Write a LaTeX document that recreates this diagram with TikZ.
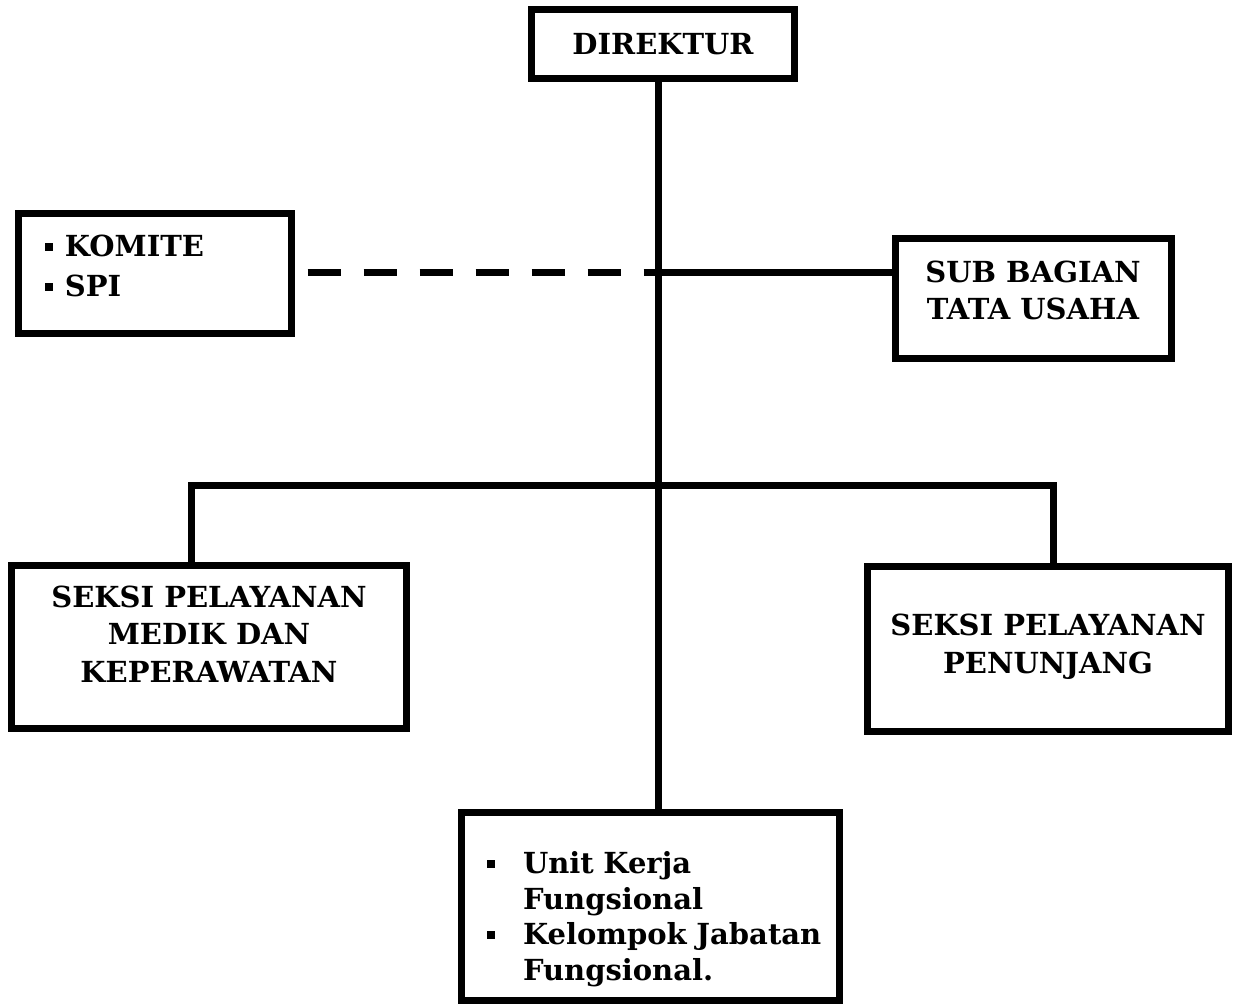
\documentclass[tikz,border=0pt]{standalone}
\usepackage{fontspec}
\setmainfont{DejaVu Serif}

\newcommand{\sqbul}{\rule[6pt]{8pt}{8pt}}
\newcommand{\fitem}[1]{\makebox[36pt][l]{\sqbul}\mbox{#1}}

\begin{document}
\begin{tikzpicture}[x=1pt,y=-1pt,
    box/.style={draw,line width=7pt,inner sep=0pt,align=center,
      font=\bfseries\fontsize{29}{37.5}\selectfont},
    conn/.style={line width=7pt}]
  \useasboundingbox (0,0) rectangle (1236,1004);

  % Boxes
  \node[box,minimum width=263.5pt,minimum height=68.5pt] (dir) at (663,44) {DIREKTUR};
  \node[box,align=left,text width=220pt,inner xsep=26.5pt,minimum height=120pt,
    font=\bfseries\fontsize{29}{40}\selectfont] (kom) at (155,273.5)
    {\makebox[20pt][l]{\sqbul}KOMITE\\\makebox[20pt][l]{\sqbul}SPI\rule[-15pt]{0pt}{0pt}};
  \node[box,minimum width=276pt,minimum height=120pt] (sub) at (1033,298.5)
    {SUB BAGIAN\\TATA USAHA\rule[-17pt]{0pt}{0pt}};
  \node[box,minimum width=395pt,minimum height=163.5pt] (med) at (209,647)
    {SEKSI PELAYANAN\\MEDIK DAN\\KEPERAWATAN\rule[-26pt]{0pt}{0pt}};
  \node[box,minimum width=361pt,minimum height=165.5pt] (pen) at (1048,648.75)
    {SEKSI PELAYANAN\\PENUNJANG\rule[-10pt]{0pt}{0pt}};
  \node[box,align=left,text width=327pt,inner xsep=25.5pt,minimum height=188pt,
    font=\bfseries\fontsize{29}{35.5}\selectfont] (fung) at (650.5,906.5)
    {\rule{0pt}{47pt}\fitem{Unit Kerja}\\\hspace*{36pt}Fungsional\\
     \fitem{Kelompok Jabatan}\\\hspace*{36pt}Fungsional.};

  % Junctions
  \coordinate (jt) at (658,272);
  \coordinate (bl) at (191,485);
  \coordinate (br) at (1053,485);

  % Lines
  \draw[conn] (dir.south -| jt) -- (fung.north -| jt);
  \draw[conn] (jt) -- (jt -| sub.west);
  \draw[conn,dash pattern=on 33pt off 23pt,shorten <=12.5pt] (kom.east |- jt) -- (jt);
  \draw[conn] (med.north -| bl) -- (bl) -- (br) -- (pen.north -| br);
\end{tikzpicture}
\end{document}
